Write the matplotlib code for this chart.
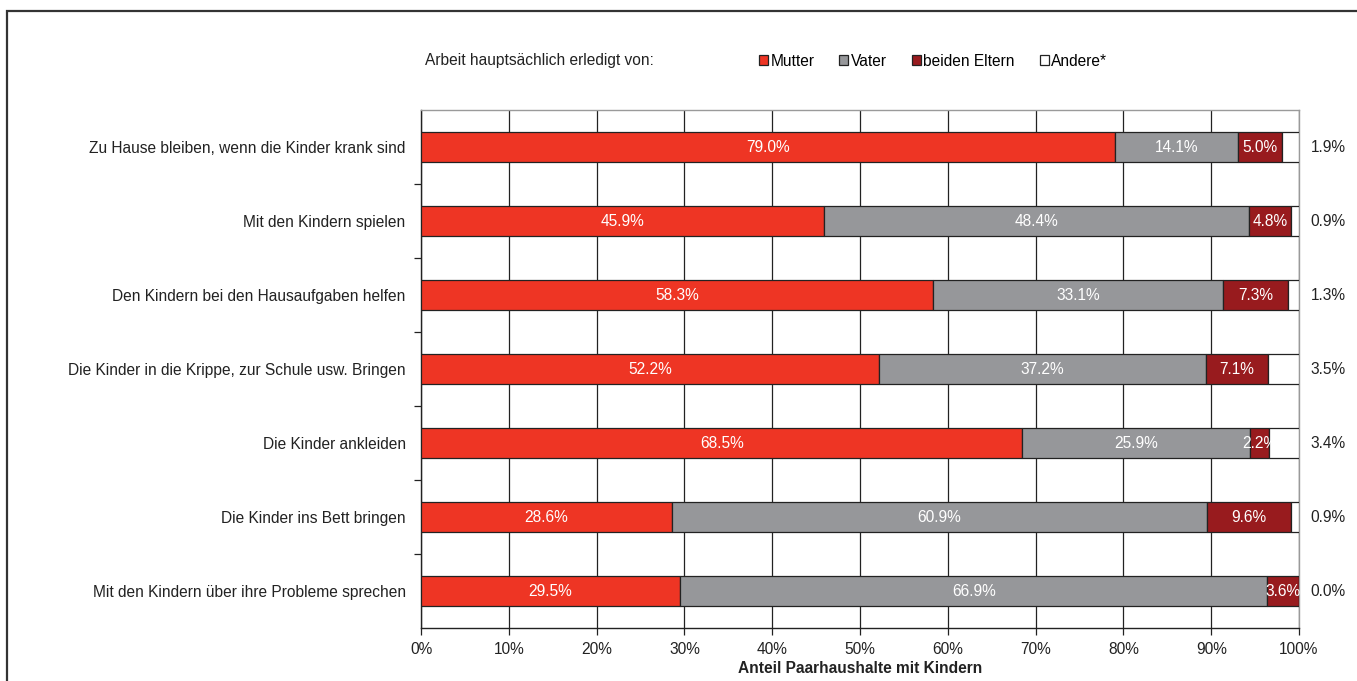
import matplotlib
matplotlib.use("Agg")
import matplotlib.pyplot as plt
from matplotlib.patches import Rectangle, Patch
from matplotlib.ticker import MultipleLocator, FixedLocator, PercentFormatter
import numpy as np

plt.rcParams['font.family'] = ['Liberation Sans', 'DejaVu Sans']

categories = [
    "Zu Hause bleiben, wenn die Kinder krank sind",
    "Mit den Kindern spielen",
    "Den Kindern bei den Hausaufgaben helfen",
    "Die Kinder in die Krippe, zur Schule usw. Bringen",
    "Die Kinder ankleiden",
    "Die Kinder ins Bett bringen",
    "Mit den Kindern über ihre Probleme sprechen",
]
mutter = [79.0, 45.9, 58.3, 52.2, 68.5, 28.6, 29.5]
vater = [14.1, 48.4, 33.1, 37.2, 25.9, 60.9, 66.9]
beide = [5.0, 4.8, 7.3, 7.1, 2.2, 9.6, 3.6]
andere = [1.9, 0.9, 1.3, 3.5, 3.4, 0.9, 0.0]

series_names = ["Mutter", "Vater", "beiden Eltern", "Andere*"]
colors = ["#EE3524", "#96979A", "#981B1E", "#FFFFFF"]

FS = 11.2
W, H = 1357, 681
fig = plt.figure(figsize=(W / 100, H / 100), dpi=100)
ax = fig.add_axes([421 / W, (H - 628) / H, 878 / W, 518 / H])

# outer frame (left and top edges only visible)
fig.patches.append(Rectangle((6.5 / W, -1), 2, 2 - 10.5 / H, transform=fig.transFigure,
                             fill=False, edgecolor="#333333", linewidth=1.6))

y = np.arange(len(categories))
left = np.zeros(len(categories))
for name, vals, col in zip(series_names, [mutter, vater, beide, andere], colors):
    vals = np.array(vals)
    ax.barh(y, vals, left=left, height=0.4, color=col, edgecolor="#222222",
            linewidth=0.9, label=name, zorder=3)
    if name != "Andere*":
        for yi, l, v in zip(y, left, vals):
            ax.text(l + v / 2, yi, f"{v:.1f}%", ha="center", va="center",
                    color="white", fontsize=FS, zorder=4)
    else:
        for yi, v in zip(y, vals):
            ax.text(103.3, yi, f"{v:.1f}%", ha="center", va="center",
                    color="#222222", fontsize=FS, clip_on=False)
    left = left + vals

ax.set_xlim(0, 100)
ax.set_ylim(len(categories) - 0.5, -0.5)
ax.xaxis.set_major_locator(MultipleLocator(10))
ax.xaxis.set_major_formatter(PercentFormatter(decimals=0))
ax.set_yticks(y)
ax.set_yticklabels(categories)
ax.yaxis.set_minor_locator(FixedLocator(np.arange(0.5, len(categories) - 0.5, 1)))
ax.tick_params(axis="y", which="major", length=0, pad=11, labelsize=FS, colors="#222222")
ax.tick_params(axis="y", which="minor", length=5, width=0.9, color="#222222")
ax.tick_params(axis="x", which="major", length=5, width=0.9, labelsize=FS,
               colors="#222222", pad=5)

ax.grid(axis="x", color="#222222", linewidth=0.9, zorder=0)
ax.set_axisbelow(True)
for s in ["left", "bottom"]:
    ax.spines[s].set_color("#222222")
    ax.spines[s].set_linewidth(1.0)
for s in ["top", "right"]:
    ax.spines[s].set_color("#9A9A9A")
    ax.spines[s].set_linewidth(1.0)

ax.set_xlabel("Anteil Paarhaushalte mit Kindern", fontsize=FS, fontweight="bold",
              labelpad=3, color="#222222")

fig.text(425 / W, 1 - 61 / H, "Arbeit hauptsächlich erledigt von:", ha="left",
         va="center", fontsize=FS, color="#222222")
handles = [Patch(facecolor=c, edgecolor="#222222", linewidth=0.9) for c in colors]
fig.legend(handles, series_names, loc="center", bbox_to_anchor=(933 / W, 1 - 61 / H),
           ncol=4, frameon=False, fontsize=FS, handlelength=0.6, handleheight=0.6,
           handletextpad=0.15, columnspacing=1.6, borderpad=0)

fig.savefig("out.png", dpi=100)
